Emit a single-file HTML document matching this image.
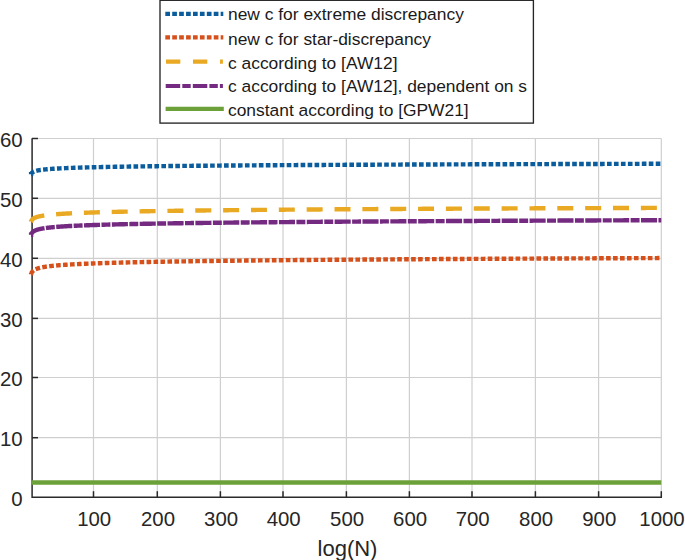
<!DOCTYPE html>
<html><head><meta charset="utf-8"><style>
html,body{margin:0;padding:0;background:#fff;}
body{width:685px;height:560px;overflow:hidden;}
svg{display:block;font-family:"Liberation Sans",sans-serif;}
</style></head><body>
<svg width="685" height="560" viewBox="0 0 685 560">
<rect width="685" height="560" fill="#fff"/>
<g stroke="#cfcfcf" stroke-width="1.2"><line x1="93.50" y1="138.52" x2="93.50" y2="497.20"/><line x1="157.30" y1="138.52" x2="157.30" y2="497.20"/><line x1="220.40" y1="138.52" x2="220.40" y2="497.20"/><line x1="283.00" y1="138.52" x2="283.00" y2="497.20"/><line x1="346.40" y1="138.52" x2="346.40" y2="497.20"/><line x1="409.40" y1="138.52" x2="409.40" y2="497.20"/><line x1="472.00" y1="138.52" x2="472.00" y2="497.20"/><line x1="535.40" y1="138.52" x2="535.40" y2="497.20"/><line x1="598.60" y1="138.52" x2="598.60" y2="497.20"/><line x1="661.30" y1="138.52" x2="661.30" y2="497.20"/><line x1="32" y1="437.70" x2="661.27" y2="437.70"/><line x1="32" y1="377.50" x2="661.27" y2="377.50"/><line x1="32" y1="318.40" x2="661.27" y2="318.40"/><line x1="32" y1="258.30" x2="661.27" y2="258.30"/><line x1="32" y1="198.30" x2="661.27" y2="198.30"/><line x1="32" y1="138.50" x2="661.27" y2="138.50"/></g>
<g stroke="#2a2a2a" stroke-width="1.5"><path d="M32.1 138.22 V497.20 H661.97" fill="none"/><line x1="32" y1="437.70" x2="38" y2="437.70"/><line x1="32" y1="377.50" x2="38" y2="377.50"/><line x1="32" y1="318.40" x2="38" y2="318.40"/><line x1="32" y1="258.30" x2="38" y2="258.30"/><line x1="32" y1="198.30" x2="38" y2="198.30"/><line x1="32" y1="138.50" x2="38" y2="138.50"/><line x1="93.50" y1="497.20" x2="93.50" y2="491.20"/><line x1="157.30" y1="497.20" x2="157.30" y2="491.20"/><line x1="220.40" y1="497.20" x2="220.40" y2="491.20"/><line x1="283.00" y1="497.20" x2="283.00" y2="491.20"/><line x1="346.40" y1="497.20" x2="346.40" y2="491.20"/><line x1="409.40" y1="497.20" x2="409.40" y2="491.20"/><line x1="472.00" y1="497.20" x2="472.00" y2="491.20"/><line x1="535.40" y1="497.20" x2="535.40" y2="491.20"/><line x1="598.60" y1="497.20" x2="598.60" y2="491.20"/><line x1="661.30" y1="497.20" x2="661.30" y2="491.20"/></g>
<g fill="none" stroke-width="4.4"><path d="M31.10 174.14 L31.10 174.14 L31.10 174.14 L31.10 174.13 L31.11 174.13 L31.11 174.12 L31.11 174.12 L31.11 174.11 L31.12 174.10 L31.12 174.09 L31.13 174.08 L31.13 174.06 L31.14 174.05 L31.15 174.03 L31.15 174.02 L31.16 174.00 L31.17 173.98 L31.18 173.96 L31.19 173.94 L31.20 173.92 L31.21 173.90 L31.22 173.88 L31.23 173.85 L31.25 173.83 L31.26 173.81 L31.27 173.78 L31.29 173.75 L31.30 173.73 L31.32 173.70 L31.33 173.67 L31.35 173.65 L31.36 173.62 L31.38 173.59 L31.40 173.56 L31.42 173.53 L31.44 173.50 L31.46 173.47 L31.48 173.44 L31.50 173.41 L31.52 173.38 L31.54 173.35 L31.56 173.32 L31.58 173.29 L31.61 173.26 L31.63 173.23 L31.65 173.20 L31.68 173.16 L31.70 173.13 L31.73 173.10 L31.76 173.07 L31.78 173.04 L31.81 173.01 L31.84 172.98 L31.87 172.95 L31.90 172.91 L31.93 172.88 L31.96 172.85 L31.99 172.82 L32.02 172.79 L32.05 172.76 L32.08 172.73 L32.12 172.70 L32.15 172.67 L32.19 172.64 L32.22 172.61 L32.26 172.58 L32.29 172.55 L32.33 172.52 L32.36 172.49 L32.40 172.46 L32.44 172.43 L32.48 172.40 L32.52 172.37 L32.56 172.35 L32.60 172.32 L32.64 172.29 L32.68 172.26 L32.72 172.23 L32.76 172.20 L32.81 172.18 L32.85 172.15 L32.89 172.12 L32.94 172.09 L32.98 172.07 L33.03 172.04 L33.08 172.01 L33.12 171.99 L33.17 171.96 L33.22 171.93 L33.27 171.91 L33.31 171.88 L33.36 171.86 L33.41 171.83 L33.46 171.80 L33.52 171.78 L33.57 171.75 L33.62 171.73 L33.67 171.70 L33.73 171.68 L33.78 171.65 L33.83 171.63 L33.89 171.61 L33.94 171.58 L34.00 171.56 L34.06 171.53 L34.11 171.51 L34.17 171.49 L34.23 171.46 L34.29 171.44 L34.35 171.42 L34.41 171.39 L34.47 171.37 L34.53 171.35 L34.59 171.33 L34.65 171.30 L34.72 171.28 L34.78 171.26 L34.84 171.24 L34.91 171.21 L34.97 171.19 L35.04 171.17 L35.10 171.15 L35.17 171.13 L35.24 171.11 L35.30 171.09 L35.37 171.06 L35.44 171.04 L35.51 171.02 L35.58 171.00 L35.65 170.98 L35.72 170.96 L35.79 170.94 L35.86 170.92 L35.94 170.90 L36.01 170.88 L36.08 170.86 L36.16 170.84 L36.23 170.82 L36.31 170.80 L36.38 170.78 L36.46 170.76 L36.54 170.75 L36.61 170.73 L36.69 170.71 L36.77 170.69 L36.85 170.67 L36.93 170.65 L37.01 170.63 L37.09 170.61 L37.17 170.60 L37.25 170.58 L37.33 170.56 L37.42 170.54 L37.50 170.52 L37.58 170.51 L37.67 170.49 L37.75 170.47 L37.84 170.45 L37.92 170.44 L38.01 170.42 L38.10 170.40 L38.19 170.38 L38.27 170.37 L38.36 170.35 L38.45 170.33 L38.54 170.32 L38.63 170.30 L38.72 170.28 L38.82 170.27 L38.91 170.25 L39.00 170.23 L39.09 170.22 L39.19 170.20 L39.28 170.19 L39.38 170.17 L39.47 170.15 L39.57 170.14 L39.66 170.12 L39.76 170.11 L39.86 170.09 L39.96 170.07 L40.06 170.06 L40.16 170.04 L40.25 170.03 L40.36 170.01 L40.46 170.00 L40.56 169.98 L40.66 169.97 L40.76 169.95 L40.87 169.94 L40.97 169.92 L41.07 169.91 L41.18 169.89 L41.28 169.88 L41.39 169.86 L41.49 169.85 L41.60 169.83 L41.71 169.82 L41.82 169.81 L41.93 169.79 L42.03 169.78 L42.14 169.76 L42.25 169.75 L42.37 169.74 L42.48 169.72 L42.59 169.71 L42.70 169.69 L42.81 169.68 L42.93 169.67 L43.04 169.65 L43.16 169.64 L43.27 169.63 L43.39 169.61 L43.50 169.60 L43.62 169.59 L43.74 169.57 L43.85 169.56 L43.97 169.55 L44.09 169.53 L44.21 169.52 L44.33 169.51 L44.45 169.49 L44.57 169.48 L44.69 169.47 L44.82 169.45 L44.94 169.44 L45.06 169.43 L45.19 169.42 L45.31 169.40 L45.44 169.39 L45.56 169.38 L45.69 169.37 L45.81 169.35 L45.94 169.34 L46.07 169.33 L46.20 169.32 L46.33 169.30 L46.45 169.29 L46.58 169.28 L46.71 169.27 L46.85 169.26 L46.98 169.24 L47.11 169.23 L47.24 169.22 L47.37 169.21 L47.51 169.20 L47.64 169.18 L47.78 169.17 L47.91 169.16 L48.05 169.15 L48.18 169.14 L48.32 169.13 L48.46 169.12 L48.60 169.10 L48.74 169.09 L48.88 169.08 L49.01 169.07 L49.16 169.06 L49.30 169.05 L49.44 169.04 L49.58 169.02 L49.72 169.01 L49.86 169.00 L50.01 168.99 L50.15 168.98 L50.30 168.97 L50.44 168.96 L50.59 168.95 L50.73 168.94 L50.88 168.93 L51.03 168.91 L51.18 168.90 L51.32 168.89 L51.47 168.88 L51.62 168.87 L51.77 168.86 L51.92 168.85 L52.07 168.84 L52.23 168.83 L52.38 168.82 L52.53 168.81 L52.68 168.80 L52.84 168.79 L52.99 168.78 L53.15 168.77 L53.30 168.76 L53.46 168.75 L53.62 168.74 L53.77 168.73 L53.93 168.72 L54.09 168.71 L54.25 168.70 L54.41 168.69 L54.57 168.68 L54.73 168.67 L54.89 168.66 L55.05 168.65 L55.21 168.64 L55.38 168.63 L55.54 168.62 L55.70 168.61 L56.33 168.57 L57.59 168.50 L58.86 168.43 L60.12 168.37 L61.38 168.30 L62.64 168.24 L63.90 168.19 L65.16 168.13 L66.43 168.08 L67.69 168.02 L68.95 167.97 L70.21 167.93 L71.47 167.88 L72.73 167.83 L74.00 167.79 L75.26 167.75 L76.52 167.71 L77.78 167.66 L79.04 167.63 L80.30 167.59 L81.56 167.55 L82.83 167.51 L84.09 167.48 L85.35 167.44 L86.61 167.41 L87.87 167.37 L89.13 167.34 L90.40 167.31 L91.66 167.28 L92.92 167.25 L94.18 167.22 L95.44 167.19 L96.70 167.16 L97.97 167.13 L99.23 167.10 L100.49 167.08 L101.75 167.05 L103.01 167.02 L104.27 167.00 L105.54 166.97 L106.80 166.95 L108.06 166.92 L109.32 166.90 L110.58 166.88 L111.84 166.85 L113.10 166.83 L114.37 166.81 L115.63 166.78 L116.89 166.76 L118.15 166.74 L119.41 166.72 L120.67 166.70 L121.94 166.68 L123.20 166.66 L124.46 166.64 L125.72 166.62 L126.98 166.60 L128.24 166.58 L129.51 166.56 L130.77 166.54 L132.03 166.52 L133.29 166.50 L134.55 166.48 L135.81 166.46 L137.08 166.45 L138.34 166.43 L139.60 166.41 L140.86 166.39 L142.12 166.38 L143.38 166.36 L144.64 166.34 L145.91 166.33 L147.17 166.31 L148.43 166.29 L149.69 166.28 L150.95 166.26 L152.21 166.25 L153.48 166.23 L154.74 166.22 L156.00 166.20 L157.26 166.19 L158.52 166.17 L159.78 166.16 L161.05 166.14 L162.31 166.13 L163.57 166.11 L164.83 166.10 L166.09 166.09 L167.35 166.07 L168.62 166.06 L169.88 166.04 L171.14 166.03 L172.40 166.02 L173.66 166.00 L174.92 165.99 L176.18 165.98 L177.45 165.96 L178.71 165.95 L179.97 165.94 L181.23 165.93 L182.49 165.91 L183.75 165.90 L185.02 165.89 L186.28 165.88 L187.54 165.87 L188.80 165.85 L190.06 165.84 L191.32 165.83 L192.59 165.82 L193.85 165.81 L195.11 165.79 L196.37 165.78 L197.63 165.77 L198.89 165.76 L200.16 165.75 L201.42 165.74 L202.68 165.73 L203.94 165.72 L205.20 165.71 L206.46 165.69 L207.72 165.68 L208.99 165.67 L210.25 165.66 L211.51 165.65 L212.77 165.64 L214.03 165.63 L215.29 165.62 L216.56 165.61 L217.82 165.60 L219.08 165.59 L220.34 165.58 L221.60 165.57 L222.86 165.56 L224.13 165.55 L225.39 165.54 L226.65 165.53 L227.91 165.52 L229.17 165.51 L230.43 165.50 L231.70 165.49 L232.96 165.48 L234.22 165.48 L235.48 165.47 L236.74 165.46 L238.00 165.45 L239.26 165.44 L240.53 165.43 L241.79 165.42 L243.05 165.41 L244.31 165.40 L245.57 165.39 L246.83 165.39 L248.10 165.38 L249.36 165.37 L250.62 165.36 L251.88 165.35 L253.14 165.34 L254.40 165.33 L255.67 165.33 L256.93 165.32 L258.19 165.31 L259.45 165.30 L260.71 165.29 L261.97 165.28 L263.24 165.28 L264.50 165.27 L265.76 165.26 L267.02 165.25 L268.28 165.24 L269.54 165.24 L270.80 165.23 L272.07 165.22 L273.33 165.21 L274.59 165.20 L275.85 165.20 L277.11 165.19 L278.37 165.18 L279.64 165.17 L280.90 165.17 L282.16 165.16 L283.42 165.15 L284.68 165.14 L285.94 165.14 L287.21 165.13 L288.47 165.12 L289.73 165.11 L290.99 165.11 L292.25 165.10 L293.51 165.09 L294.78 165.08 L296.04 165.08 L297.30 165.07 L298.56 165.06 L299.82 165.06 L301.08 165.05 L302.34 165.04 L303.61 165.04 L304.87 165.03 L306.13 165.02 L307.39 165.01 L308.65 165.01 L309.91 165.00 L311.18 164.99 L312.44 164.99 L313.70 164.98 L314.96 164.97 L316.22 164.97 L317.48 164.96 L318.75 164.95 L320.01 164.95 L321.27 164.94 L322.53 164.94 L323.79 164.93 L325.05 164.92 L326.32 164.92 L327.58 164.91 L328.84 164.90 L330.10 164.90 L331.36 164.89 L332.62 164.88 L333.88 164.88 L335.15 164.87 L336.41 164.87 L337.67 164.86 L338.93 164.85 L340.19 164.85 L341.45 164.84 L342.72 164.83 L343.98 164.83 L345.24 164.82 L346.50 164.82 L347.76 164.81 L349.02 164.80 L350.29 164.80 L351.55 164.79 L352.81 164.79 L354.07 164.78 L355.33 164.78 L356.59 164.77 L357.86 164.76 L359.12 164.76 L360.38 164.75 L361.64 164.75 L362.90 164.74 L364.16 164.74 L365.42 164.73 L366.69 164.72 L367.95 164.72 L369.21 164.71 L370.47 164.71 L371.73 164.70 L372.99 164.70 L374.26 164.69 L375.52 164.69 L376.78 164.68 L378.04 164.67 L379.30 164.67 L380.56 164.66 L381.83 164.66 L383.09 164.65 L384.35 164.65 L385.61 164.64 L386.87 164.64 L388.13 164.63 L389.40 164.63 L390.66 164.62 L391.92 164.62 L393.18 164.61 L394.44 164.61 L395.70 164.60 L396.96 164.59 L398.23 164.59 L399.49 164.58 L400.75 164.58 L402.01 164.57 L403.27 164.57 L404.53 164.56 L405.80 164.56 L407.06 164.55 L408.32 164.55 L409.58 164.54 L410.84 164.54 L412.10 164.53 L413.37 164.53 L414.63 164.52 L415.89 164.52 L417.15 164.51 L418.41 164.51 L419.67 164.50 L420.94 164.50 L422.20 164.49 L423.46 164.49 L424.72 164.49 L425.98 164.48 L427.24 164.48 L428.50 164.47 L429.77 164.47 L431.03 164.46 L432.29 164.46 L433.55 164.45 L434.81 164.45 L436.07 164.44 L437.34 164.44 L438.60 164.43 L439.86 164.43 L441.12 164.42 L442.38 164.42 L443.64 164.41 L444.91 164.41 L446.17 164.41 L447.43 164.40 L448.69 164.40 L449.95 164.39 L451.21 164.39 L452.48 164.38 L453.74 164.38 L455.00 164.37 L456.26 164.37 L457.52 164.37 L458.78 164.36 L460.04 164.36 L461.31 164.35 L462.57 164.35 L463.83 164.34 L465.09 164.34 L466.35 164.33 L467.61 164.33 L468.88 164.33 L470.14 164.32 L471.40 164.32 L472.66 164.31 L473.92 164.31 L475.18 164.30 L476.45 164.30 L477.71 164.30 L478.97 164.29 L480.23 164.29 L481.49 164.28 L482.75 164.28 L484.02 164.28 L485.28 164.27 L486.54 164.27 L487.80 164.26 L489.06 164.26 L490.32 164.25 L491.58 164.25 L492.85 164.25 L494.11 164.24 L495.37 164.24 L496.63 164.23 L497.89 164.23 L499.15 164.23 L500.42 164.22 L501.68 164.22 L502.94 164.21 L504.20 164.21 L505.46 164.21 L506.72 164.20 L507.99 164.20 L509.25 164.19 L510.51 164.19 L511.77 164.19 L513.03 164.18 L514.29 164.18 L515.56 164.17 L516.82 164.17 L518.08 164.17 L519.34 164.16 L520.60 164.16 L521.86 164.15 L523.12 164.15 L524.39 164.15 L525.65 164.14 L526.91 164.14 L528.17 164.14 L529.43 164.13 L530.69 164.13 L531.96 164.12 L533.22 164.12 L534.48 164.12 L535.74 164.11 L537.00 164.11 L538.26 164.11 L539.53 164.10 L540.79 164.10 L542.05 164.09 L543.31 164.09 L544.57 164.09 L545.83 164.08 L547.10 164.08 L548.36 164.08 L549.62 164.07 L550.88 164.07 L552.14 164.07 L553.40 164.06 L554.66 164.06 L555.93 164.05 L557.19 164.05 L558.45 164.05 L559.71 164.04 L560.97 164.04 L562.23 164.04 L563.50 164.03 L564.76 164.03 L566.02 164.03 L567.28 164.02 L568.54 164.02 L569.80 164.02 L571.07 164.01 L572.33 164.01 L573.59 164.00 L574.85 164.00 L576.11 164.00 L577.37 163.99 L578.64 163.99 L579.90 163.99 L581.16 163.98 L582.42 163.98 L583.68 163.98 L584.94 163.97 L586.20 163.97 L587.47 163.97 L588.73 163.96 L589.99 163.96 L591.25 163.96 L592.51 163.95 L593.77 163.95 L595.04 163.95 L596.30 163.94 L597.56 163.94 L598.82 163.94 L600.08 163.93 L601.34 163.93 L602.61 163.93 L603.87 163.92 L605.13 163.92 L606.39 163.92 L607.65 163.91 L608.91 163.91 L610.18 163.91 L611.44 163.90 L612.70 163.90 L613.96 163.90 L615.22 163.89 L616.48 163.89 L617.74 163.89 L619.01 163.88 L620.27 163.88 L621.53 163.88 L622.79 163.87 L624.05 163.87 L625.31 163.87 L626.58 163.87 L627.84 163.86 L629.10 163.86 L630.36 163.86 L631.62 163.85 L632.88 163.85 L634.15 163.85 L635.41 163.84 L636.67 163.84 L637.93 163.84 L639.19 163.83 L640.45 163.83 L641.72 163.83 L642.98 163.82 L644.24 163.82 L645.50 163.82 L646.76 163.82 L648.02 163.81 L649.28 163.81 L650.55 163.81 L651.81 163.80 L653.07 163.80 L654.33 163.80 L655.59 163.79 L656.85 163.79 L658.12 163.79 L659.38 163.78 L660.64 163.78 L661.27 163.78" stroke="#0a5c9c" stroke-dasharray="4.65 2.313" stroke-dashoffset="0.590"/>
<path d="M31.10 274.13 L31.10 274.13 L31.10 274.13 L31.10 274.12 L31.11 274.11 L31.11 274.11 L31.11 274.09 L31.11 274.08 L31.12 274.07 L31.12 274.05 L31.13 274.03 L31.13 274.01 L31.14 273.99 L31.15 273.97 L31.15 273.94 L31.16 273.91 L31.17 273.89 L31.18 273.86 L31.19 273.83 L31.20 273.79 L31.21 273.76 L31.22 273.72 L31.23 273.69 L31.25 273.65 L31.26 273.61 L31.27 273.57 L31.29 273.53 L31.30 273.49 L31.32 273.45 L31.33 273.41 L31.35 273.36 L31.36 273.32 L31.38 273.28 L31.40 273.23 L31.42 273.19 L31.44 273.14 L31.46 273.09 L31.48 273.05 L31.50 273.00 L31.52 272.95 L31.54 272.91 L31.56 272.86 L31.58 272.81 L31.61 272.76 L31.63 272.71 L31.65 272.67 L31.68 272.62 L31.70 272.57 L31.73 272.52 L31.76 272.47 L31.78 272.42 L31.81 272.38 L31.84 272.33 L31.87 272.28 L31.90 272.23 L31.93 272.18 L31.96 272.13 L31.99 272.09 L32.02 272.04 L32.05 271.99 L32.08 271.94 L32.12 271.90 L32.15 271.85 L32.19 271.80 L32.22 271.76 L32.26 271.71 L32.29 271.66 L32.33 271.62 L32.36 271.57 L32.40 271.53 L32.44 271.48 L32.48 271.44 L32.52 271.39 L32.56 271.35 L32.60 271.30 L32.64 271.26 L32.68 271.21 L32.72 271.17 L32.76 271.13 L32.81 271.08 L32.85 271.04 L32.89 271.00 L32.94 270.96 L32.98 270.91 L33.03 270.87 L33.08 270.83 L33.12 270.79 L33.17 270.75 L33.22 270.71 L33.27 270.67 L33.31 270.63 L33.36 270.59 L33.41 270.55 L33.46 270.51 L33.52 270.47 L33.57 270.43 L33.62 270.39 L33.67 270.35 L33.73 270.31 L33.78 270.27 L33.83 270.24 L33.89 270.20 L33.94 270.16 L34.00 270.12 L34.06 270.09 L34.11 270.05 L34.17 270.01 L34.23 269.98 L34.29 269.94 L34.35 269.91 L34.41 269.87 L34.47 269.84 L34.53 269.80 L34.59 269.76 L34.65 269.73 L34.72 269.70 L34.78 269.66 L34.84 269.63 L34.91 269.59 L34.97 269.56 L35.04 269.53 L35.10 269.49 L35.17 269.46 L35.24 269.43 L35.30 269.39 L35.37 269.36 L35.44 269.33 L35.51 269.30 L35.58 269.26 L35.65 269.23 L35.72 269.20 L35.79 269.17 L35.86 269.14 L35.94 269.11 L36.01 269.08 L36.08 269.05 L36.16 269.02 L36.23 268.99 L36.31 268.96 L36.38 268.93 L36.46 268.90 L36.54 268.87 L36.61 268.84 L36.69 268.81 L36.77 268.78 L36.85 268.75 L36.93 268.72 L37.01 268.69 L37.09 268.66 L37.17 268.63 L37.25 268.61 L37.33 268.58 L37.42 268.55 L37.50 268.52 L37.58 268.50 L37.67 268.47 L37.75 268.44 L37.84 268.41 L37.92 268.39 L38.01 268.36 L38.10 268.33 L38.19 268.31 L38.27 268.28 L38.36 268.25 L38.45 268.23 L38.54 268.20 L38.63 268.17 L38.72 268.15 L38.82 268.12 L38.91 268.10 L39.00 268.07 L39.09 268.05 L39.19 268.02 L39.28 268.00 L39.38 267.97 L39.47 267.95 L39.57 267.92 L39.66 267.90 L39.76 267.87 L39.86 267.85 L39.96 267.83 L40.06 267.80 L40.16 267.78 L40.25 267.75 L40.36 267.73 L40.46 267.71 L40.56 267.68 L40.66 267.66 L40.76 267.64 L40.87 267.61 L40.97 267.59 L41.07 267.57 L41.18 267.54 L41.28 267.52 L41.39 267.50 L41.49 267.48 L41.60 267.45 L41.71 267.43 L41.82 267.41 L41.93 267.39 L42.03 267.36 L42.14 267.34 L42.25 267.32 L42.37 267.30 L42.48 267.28 L42.59 267.26 L42.70 267.23 L42.81 267.21 L42.93 267.19 L43.04 267.17 L43.16 267.15 L43.27 267.13 L43.39 267.11 L43.50 267.09 L43.62 267.07 L43.74 267.05 L43.85 267.02 L43.97 267.00 L44.09 266.98 L44.21 266.96 L44.33 266.94 L44.45 266.92 L44.57 266.90 L44.69 266.88 L44.82 266.86 L44.94 266.84 L45.06 266.82 L45.19 266.80 L45.31 266.78 L45.44 266.76 L45.56 266.75 L45.69 266.73 L45.81 266.71 L45.94 266.69 L46.07 266.67 L46.20 266.65 L46.33 266.63 L46.45 266.61 L46.58 266.59 L46.71 266.57 L46.85 266.56 L46.98 266.54 L47.11 266.52 L47.24 266.50 L47.37 266.48 L47.51 266.46 L47.64 266.44 L47.78 266.43 L47.91 266.41 L48.05 266.39 L48.18 266.37 L48.32 266.35 L48.46 266.34 L48.60 266.32 L48.74 266.30 L48.88 266.28 L49.01 266.27 L49.16 266.25 L49.30 266.23 L49.44 266.21 L49.58 266.20 L49.72 266.18 L49.86 266.16 L50.01 266.14 L50.15 266.13 L50.30 266.11 L50.44 266.09 L50.59 266.08 L50.73 266.06 L50.88 266.04 L51.03 266.03 L51.18 266.01 L51.32 265.99 L51.47 265.98 L51.62 265.96 L51.77 265.94 L51.92 265.93 L52.07 265.91 L52.23 265.89 L52.38 265.88 L52.53 265.86 L52.68 265.85 L52.84 265.83 L52.99 265.81 L53.15 265.80 L53.30 265.78 L53.46 265.77 L53.62 265.75 L53.77 265.73 L53.93 265.72 L54.09 265.70 L54.25 265.69 L54.41 265.67 L54.57 265.66 L54.73 265.64 L54.89 265.63 L55.05 265.61 L55.21 265.60 L55.38 265.58 L55.54 265.56 L55.70 265.55 L56.33 265.49 L57.59 265.38 L58.86 265.28 L60.12 265.17 L61.38 265.08 L62.64 264.98 L63.90 264.90 L65.16 264.81 L66.43 264.73 L67.69 264.65 L68.95 264.57 L70.21 264.49 L71.47 264.42 L72.73 264.35 L74.00 264.28 L75.26 264.22 L76.52 264.15 L77.78 264.09 L79.04 264.03 L80.30 263.97 L81.56 263.91 L82.83 263.85 L84.09 263.80 L85.35 263.74 L86.61 263.69 L87.87 263.64 L89.13 263.59 L90.40 263.54 L91.66 263.49 L92.92 263.44 L94.18 263.40 L95.44 263.35 L96.70 263.30 L97.97 263.26 L99.23 263.22 L100.49 263.18 L101.75 263.13 L103.01 263.09 L104.27 263.05 L105.54 263.01 L106.80 262.97 L108.06 262.94 L109.32 262.90 L110.58 262.86 L111.84 262.83 L113.10 262.79 L114.37 262.75 L115.63 262.72 L116.89 262.69 L118.15 262.65 L119.41 262.62 L120.67 262.59 L121.94 262.55 L123.20 262.52 L124.46 262.49 L125.72 262.46 L126.98 262.43 L128.24 262.40 L129.51 262.37 L130.77 262.34 L132.03 262.31 L133.29 262.28 L134.55 262.25 L135.81 262.23 L137.08 262.20 L138.34 262.17 L139.60 262.14 L140.86 262.12 L142.12 262.09 L143.38 262.06 L144.64 262.04 L145.91 262.01 L147.17 261.99 L148.43 261.96 L149.69 261.94 L150.95 261.91 L152.21 261.89 L153.48 261.86 L154.74 261.84 L156.00 261.82 L157.26 261.79 L158.52 261.77 L159.78 261.75 L161.05 261.73 L162.31 261.70 L163.57 261.68 L164.83 261.66 L166.09 261.64 L167.35 261.62 L168.62 261.59 L169.88 261.57 L171.14 261.55 L172.40 261.53 L173.66 261.51 L174.92 261.49 L176.18 261.47 L177.45 261.45 L178.71 261.43 L179.97 261.41 L181.23 261.39 L182.49 261.37 L183.75 261.35 L185.02 261.33 L186.28 261.31 L187.54 261.30 L188.80 261.28 L190.06 261.26 L191.32 261.24 L192.59 261.22 L193.85 261.20 L195.11 261.19 L196.37 261.17 L197.63 261.15 L198.89 261.13 L200.16 261.12 L201.42 261.10 L202.68 261.08 L203.94 261.07 L205.20 261.05 L206.46 261.03 L207.72 261.01 L208.99 261.00 L210.25 260.98 L211.51 260.97 L212.77 260.95 L214.03 260.93 L215.29 260.92 L216.56 260.90 L217.82 260.89 L219.08 260.87 L220.34 260.85 L221.60 260.84 L222.86 260.82 L224.13 260.81 L225.39 260.79 L226.65 260.78 L227.91 260.76 L229.17 260.75 L230.43 260.73 L231.70 260.72 L232.96 260.71 L234.22 260.69 L235.48 260.68 L236.74 260.66 L238.00 260.65 L239.26 260.63 L240.53 260.62 L241.79 260.61 L243.05 260.59 L244.31 260.58 L245.57 260.56 L246.83 260.55 L248.10 260.54 L249.36 260.52 L250.62 260.51 L251.88 260.50 L253.14 260.48 L254.40 260.47 L255.67 260.46 L256.93 260.45 L258.19 260.43 L259.45 260.42 L260.71 260.41 L261.97 260.39 L263.24 260.38 L264.50 260.37 L265.76 260.36 L267.02 260.34 L268.28 260.33 L269.54 260.32 L270.80 260.31 L272.07 260.29 L273.33 260.28 L274.59 260.27 L275.85 260.26 L277.11 260.25 L278.37 260.23 L279.64 260.22 L280.90 260.21 L282.16 260.20 L283.42 260.19 L284.68 260.18 L285.94 260.16 L287.21 260.15 L288.47 260.14 L289.73 260.13 L290.99 260.12 L292.25 260.11 L293.51 260.10 L294.78 260.09 L296.04 260.07 L297.30 260.06 L298.56 260.05 L299.82 260.04 L301.08 260.03 L302.34 260.02 L303.61 260.01 L304.87 260.00 L306.13 259.99 L307.39 259.98 L308.65 259.97 L309.91 259.96 L311.18 259.95 L312.44 259.94 L313.70 259.92 L314.96 259.91 L316.22 259.90 L317.48 259.89 L318.75 259.88 L320.01 259.87 L321.27 259.86 L322.53 259.85 L323.79 259.84 L325.05 259.83 L326.32 259.82 L327.58 259.81 L328.84 259.80 L330.10 259.79 L331.36 259.78 L332.62 259.77 L333.88 259.76 L335.15 259.75 L336.41 259.75 L337.67 259.74 L338.93 259.73 L340.19 259.72 L341.45 259.71 L342.72 259.70 L343.98 259.69 L345.24 259.68 L346.50 259.67 L347.76 259.66 L349.02 259.65 L350.29 259.64 L351.55 259.63 L352.81 259.62 L354.07 259.61 L355.33 259.61 L356.59 259.60 L357.86 259.59 L359.12 259.58 L360.38 259.57 L361.64 259.56 L362.90 259.55 L364.16 259.54 L365.42 259.53 L366.69 259.53 L367.95 259.52 L369.21 259.51 L370.47 259.50 L371.73 259.49 L372.99 259.48 L374.26 259.47 L375.52 259.47 L376.78 259.46 L378.04 259.45 L379.30 259.44 L380.56 259.43 L381.83 259.42 L383.09 259.41 L384.35 259.41 L385.61 259.40 L386.87 259.39 L388.13 259.38 L389.40 259.37 L390.66 259.37 L391.92 259.36 L393.18 259.35 L394.44 259.34 L395.70 259.33 L396.96 259.33 L398.23 259.32 L399.49 259.31 L400.75 259.30 L402.01 259.29 L403.27 259.29 L404.53 259.28 L405.80 259.27 L407.06 259.26 L408.32 259.25 L409.58 259.25 L410.84 259.24 L412.10 259.23 L413.37 259.22 L414.63 259.22 L415.89 259.21 L417.15 259.20 L418.41 259.19 L419.67 259.19 L420.94 259.18 L422.20 259.17 L423.46 259.16 L424.72 259.16 L425.98 259.15 L427.24 259.14 L428.50 259.13 L429.77 259.13 L431.03 259.12 L432.29 259.11 L433.55 259.10 L434.81 259.10 L436.07 259.09 L437.34 259.08 L438.60 259.07 L439.86 259.07 L441.12 259.06 L442.38 259.05 L443.64 259.05 L444.91 259.04 L446.17 259.03 L447.43 259.03 L448.69 259.02 L449.95 259.01 L451.21 259.00 L452.48 259.00 L453.74 258.99 L455.00 258.98 L456.26 258.98 L457.52 258.97 L458.78 258.96 L460.04 258.96 L461.31 258.95 L462.57 258.94 L463.83 258.94 L465.09 258.93 L466.35 258.92 L467.61 258.92 L468.88 258.91 L470.14 258.90 L471.40 258.90 L472.66 258.89 L473.92 258.88 L475.18 258.88 L476.45 258.87 L477.71 258.86 L478.97 258.86 L480.23 258.85 L481.49 258.84 L482.75 258.84 L484.02 258.83 L485.28 258.82 L486.54 258.82 L487.80 258.81 L489.06 258.80 L490.32 258.80 L491.58 258.79 L492.85 258.78 L494.11 258.78 L495.37 258.77 L496.63 258.77 L497.89 258.76 L499.15 258.75 L500.42 258.75 L501.68 258.74 L502.94 258.73 L504.20 258.73 L505.46 258.72 L506.72 258.72 L507.99 258.71 L509.25 258.70 L510.51 258.70 L511.77 258.69 L513.03 258.69 L514.29 258.68 L515.56 258.67 L516.82 258.67 L518.08 258.66 L519.34 258.65 L520.60 258.65 L521.86 258.64 L523.12 258.64 L524.39 258.63 L525.65 258.63 L526.91 258.62 L528.17 258.61 L529.43 258.61 L530.69 258.60 L531.96 258.60 L533.22 258.59 L534.48 258.58 L535.74 258.58 L537.00 258.57 L538.26 258.57 L539.53 258.56 L540.79 258.56 L542.05 258.55 L543.31 258.54 L544.57 258.54 L545.83 258.53 L547.10 258.53 L548.36 258.52 L549.62 258.52 L550.88 258.51 L552.14 258.50 L553.40 258.50 L554.66 258.49 L555.93 258.49 L557.19 258.48 L558.45 258.48 L559.71 258.47 L560.97 258.46 L562.23 258.46 L563.50 258.45 L564.76 258.45 L566.02 258.44 L567.28 258.44 L568.54 258.43 L569.80 258.43 L571.07 258.42 L572.33 258.42 L573.59 258.41 L574.85 258.40 L576.11 258.40 L577.37 258.39 L578.64 258.39 L579.90 258.38 L581.16 258.38 L582.42 258.37 L583.68 258.37 L584.94 258.36 L586.20 258.36 L587.47 258.35 L588.73 258.35 L589.99 258.34 L591.25 258.34 L592.51 258.33 L593.77 258.33 L595.04 258.32 L596.30 258.31 L597.56 258.31 L598.82 258.30 L600.08 258.30 L601.34 258.29 L602.61 258.29 L603.87 258.28 L605.13 258.28 L606.39 258.27 L607.65 258.27 L608.91 258.26 L610.18 258.26 L611.44 258.25 L612.70 258.25 L613.96 258.24 L615.22 258.24 L616.48 258.23 L617.74 258.23 L619.01 258.22 L620.27 258.22 L621.53 258.21 L622.79 258.21 L624.05 258.20 L625.31 258.20 L626.58 258.19 L627.84 258.19 L629.10 258.18 L630.36 258.18 L631.62 258.17 L632.88 258.17 L634.15 258.16 L635.41 258.16 L636.67 258.15 L637.93 258.15 L639.19 258.14 L640.45 258.14 L641.72 258.14 L642.98 258.13 L644.24 258.13 L645.50 258.12 L646.76 258.12 L648.02 258.11 L649.28 258.11 L650.55 258.10 L651.81 258.10 L653.07 258.09 L654.33 258.09 L655.59 258.08 L656.85 258.08 L658.12 258.07 L659.38 258.07 L660.64 258.06 L661.27 258.06" stroke="#d6501b" stroke-dasharray="4.65 2.313" stroke-dashoffset="0.013"/>
<path d="M31.10 221.62 L31.10 221.62 L31.10 221.61 L31.10 221.61 L31.11 221.60 L31.11 221.60 L31.11 221.59 L31.11 221.57 L31.12 221.56 L31.12 221.55 L31.13 221.53 L31.13 221.51 L31.14 221.50 L31.15 221.48 L31.15 221.45 L31.16 221.43 L31.17 221.41 L31.18 221.38 L31.19 221.36 L31.20 221.33 L31.21 221.30 L31.22 221.27 L31.23 221.24 L31.25 221.21 L31.26 221.17 L31.27 221.14 L31.29 221.11 L31.30 221.07 L31.32 221.03 L31.33 221.00 L31.35 220.96 L31.36 220.92 L31.38 220.89 L31.40 220.85 L31.42 220.81 L31.44 220.77 L31.46 220.73 L31.48 220.69 L31.50 220.65 L31.52 220.61 L31.54 220.57 L31.56 220.53 L31.58 220.49 L31.61 220.45 L31.63 220.40 L31.65 220.36 L31.68 220.32 L31.70 220.28 L31.73 220.24 L31.76 220.20 L31.78 220.16 L31.81 220.12 L31.84 220.07 L31.87 220.03 L31.90 219.99 L31.93 219.95 L31.96 219.91 L31.99 219.87 L32.02 219.83 L32.05 219.79 L32.08 219.75 L32.12 219.71 L32.15 219.67 L32.19 219.63 L32.22 219.59 L32.26 219.55 L32.29 219.51 L32.33 219.47 L32.36 219.43 L32.40 219.39 L32.44 219.35 L32.48 219.31 L32.52 219.27 L32.56 219.24 L32.60 219.20 L32.64 219.16 L32.68 219.12 L32.72 219.09 L32.76 219.05 L32.81 219.01 L32.85 218.98 L32.89 218.94 L32.94 218.90 L32.98 218.87 L33.03 218.83 L33.08 218.80 L33.12 218.76 L33.17 218.72 L33.22 218.69 L33.27 218.65 L33.31 218.62 L33.36 218.59 L33.41 218.55 L33.46 218.52 L33.52 218.48 L33.57 218.45 L33.62 218.42 L33.67 218.38 L33.73 218.35 L33.78 218.32 L33.83 218.29 L33.89 218.25 L33.94 218.22 L34.00 218.19 L34.06 218.16 L34.11 218.13 L34.17 218.10 L34.23 218.07 L34.29 218.03 L34.35 218.00 L34.41 217.97 L34.47 217.94 L34.53 217.91 L34.59 217.88 L34.65 217.85 L34.72 217.82 L34.78 217.79 L34.84 217.77 L34.91 217.74 L34.97 217.71 L35.04 217.68 L35.10 217.65 L35.17 217.62 L35.24 217.59 L35.30 217.57 L35.37 217.54 L35.44 217.51 L35.51 217.48 L35.58 217.46 L35.65 217.43 L35.72 217.40 L35.79 217.37 L35.86 217.35 L35.94 217.32 L36.01 217.30 L36.08 217.27 L36.16 217.24 L36.23 217.22 L36.31 217.19 L36.38 217.17 L36.46 217.14 L36.54 217.11 L36.61 217.09 L36.69 217.06 L36.77 217.04 L36.85 217.01 L36.93 216.99 L37.01 216.97 L37.09 216.94 L37.17 216.92 L37.25 216.89 L37.33 216.87 L37.42 216.84 L37.50 216.82 L37.58 216.80 L37.67 216.77 L37.75 216.75 L37.84 216.73 L37.92 216.70 L38.01 216.68 L38.10 216.66 L38.19 216.64 L38.27 216.61 L38.36 216.59 L38.45 216.57 L38.54 216.55 L38.63 216.52 L38.72 216.50 L38.82 216.48 L38.91 216.46 L39.00 216.44 L39.09 216.41 L39.19 216.39 L39.28 216.37 L39.38 216.35 L39.47 216.33 L39.57 216.31 L39.66 216.29 L39.76 216.27 L39.86 216.25 L39.96 216.22 L40.06 216.20 L40.16 216.18 L40.25 216.16 L40.36 216.14 L40.46 216.12 L40.56 216.10 L40.66 216.08 L40.76 216.06 L40.87 216.04 L40.97 216.02 L41.07 216.00 L41.18 215.98 L41.28 215.96 L41.39 215.95 L41.49 215.93 L41.60 215.91 L41.71 215.89 L41.82 215.87 L41.93 215.85 L42.03 215.83 L42.14 215.81 L42.25 215.79 L42.37 215.77 L42.48 215.76 L42.59 215.74 L42.70 215.72 L42.81 215.70 L42.93 215.68 L43.04 215.66 L43.16 215.65 L43.27 215.63 L43.39 215.61 L43.50 215.59 L43.62 215.58 L43.74 215.56 L43.85 215.54 L43.97 215.52 L44.09 215.51 L44.21 215.49 L44.33 215.47 L44.45 215.45 L44.57 215.44 L44.69 215.42 L44.82 215.40 L44.94 215.39 L45.06 215.37 L45.19 215.35 L45.31 215.33 L45.44 215.32 L45.56 215.30 L45.69 215.28 L45.81 215.27 L45.94 215.25 L46.07 215.24 L46.20 215.22 L46.33 215.20 L46.45 215.19 L46.58 215.17 L46.71 215.15 L46.85 215.14 L46.98 215.12 L47.11 215.11 L47.24 215.09 L47.37 215.08 L47.51 215.06 L47.64 215.04 L47.78 215.03 L47.91 215.01 L48.05 215.00 L48.18 214.98 L48.32 214.97 L48.46 214.95 L48.60 214.94 L48.74 214.92 L48.88 214.91 L49.01 214.89 L49.16 214.88 L49.30 214.86 L49.44 214.85 L49.58 214.83 L49.72 214.82 L49.86 214.80 L50.01 214.79 L50.15 214.77 L50.30 214.76 L50.44 214.74 L50.59 214.73 L50.73 214.72 L50.88 214.70 L51.03 214.69 L51.18 214.67 L51.32 214.66 L51.47 214.64 L51.62 214.63 L51.77 214.62 L51.92 214.60 L52.07 214.59 L52.23 214.57 L52.38 214.56 L52.53 214.55 L52.68 214.53 L52.84 214.52 L52.99 214.50 L53.15 214.49 L53.30 214.48 L53.46 214.46 L53.62 214.45 L53.77 214.44 L53.93 214.42 L54.09 214.41 L54.25 214.40 L54.41 214.38 L54.57 214.37 L54.73 214.36 L54.89 214.34 L55.05 214.33 L55.21 214.32 L55.38 214.30 L55.54 214.29 L55.70 214.28 L56.33 214.23 L57.59 214.14 L58.86 214.04 L60.12 213.96 L61.38 213.88 L62.64 213.80 L63.90 213.72 L65.16 213.65 L66.43 213.57 L67.69 213.51 L68.95 213.44 L70.21 213.38 L71.47 213.31 L72.73 213.25 L74.00 213.19 L75.26 213.14 L76.52 213.08 L77.78 213.03 L79.04 212.98 L80.30 212.93 L81.56 212.88 L82.83 212.83 L84.09 212.78 L85.35 212.73 L86.61 212.69 L87.87 212.64 L89.13 212.60 L90.40 212.56 L91.66 212.52 L92.92 212.48 L94.18 212.44 L95.44 212.40 L96.70 212.36 L97.97 212.32 L99.23 212.28 L100.49 212.25 L101.75 212.21 L103.01 212.18 L104.27 212.14 L105.54 212.11 L106.80 212.08 L108.06 212.04 L109.32 212.01 L110.58 211.98 L111.84 211.95 L113.10 211.92 L114.37 211.89 L115.63 211.86 L116.89 211.83 L118.15 211.80 L119.41 211.77 L120.67 211.74 L121.94 211.72 L123.20 211.69 L124.46 211.66 L125.72 211.64 L126.98 211.61 L128.24 211.58 L129.51 211.56 L130.77 211.53 L132.03 211.51 L133.29 211.48 L134.55 211.46 L135.81 211.44 L137.08 211.41 L138.34 211.39 L139.60 211.37 L140.86 211.34 L142.12 211.32 L143.38 211.30 L144.64 211.28 L145.91 211.25 L147.17 211.23 L148.43 211.21 L149.69 211.19 L150.95 211.17 L152.21 211.15 L153.48 211.13 L154.74 211.11 L156.00 211.09 L157.26 211.07 L158.52 211.05 L159.78 211.03 L161.05 211.01 L162.31 210.99 L163.57 210.97 L164.83 210.95 L166.09 210.93 L167.35 210.92 L168.62 210.90 L169.88 210.88 L171.14 210.86 L172.40 210.84 L173.66 210.83 L174.92 210.81 L176.18 210.79 L177.45 210.77 L178.71 210.76 L179.97 210.74 L181.23 210.72 L182.49 210.71 L183.75 210.69 L185.02 210.67 L186.28 210.66 L187.54 210.64 L188.80 210.63 L190.06 210.61 L191.32 210.59 L192.59 210.58 L193.85 210.56 L195.11 210.55 L196.37 210.53 L197.63 210.52 L198.89 210.50 L200.16 210.49 L201.42 210.47 L202.68 210.46 L203.94 210.44 L205.20 210.43 L206.46 210.42 L207.72 210.40 L208.99 210.39 L210.25 210.37 L211.51 210.36 L212.77 210.35 L214.03 210.33 L215.29 210.32 L216.56 210.30 L217.82 210.29 L219.08 210.28 L220.34 210.26 L221.60 210.25 L222.86 210.24 L224.13 210.23 L225.39 210.21 L226.65 210.20 L227.91 210.19 L229.17 210.17 L230.43 210.16 L231.70 210.15 L232.96 210.14 L234.22 210.12 L235.48 210.11 L236.74 210.10 L238.00 210.09 L239.26 210.08 L240.53 210.06 L241.79 210.05 L243.05 210.04 L244.31 210.03 L245.57 210.02 L246.83 210.00 L248.10 209.99 L249.36 209.98 L250.62 209.97 L251.88 209.96 L253.14 209.95 L254.40 209.94 L255.67 209.93 L256.93 209.91 L258.19 209.90 L259.45 209.89 L260.71 209.88 L261.97 209.87 L263.24 209.86 L264.50 209.85 L265.76 209.84 L267.02 209.83 L268.28 209.82 L269.54 209.81 L270.80 209.80 L272.07 209.79 L273.33 209.77 L274.59 209.76 L275.85 209.75 L277.11 209.74 L278.37 209.73 L279.64 209.72 L280.90 209.71 L282.16 209.70 L283.42 209.69 L284.68 209.68 L285.94 209.67 L287.21 209.66 L288.47 209.65 L289.73 209.64 L290.99 209.64 L292.25 209.63 L293.51 209.62 L294.78 209.61 L296.04 209.60 L297.30 209.59 L298.56 209.58 L299.82 209.57 L301.08 209.56 L302.34 209.55 L303.61 209.54 L304.87 209.53 L306.13 209.52 L307.39 209.51 L308.65 209.50 L309.91 209.50 L311.18 209.49 L312.44 209.48 L313.70 209.47 L314.96 209.46 L316.22 209.45 L317.48 209.44 L318.75 209.43 L320.01 209.43 L321.27 209.42 L322.53 209.41 L323.79 209.40 L325.05 209.39 L326.32 209.38 L327.58 209.37 L328.84 209.37 L330.10 209.36 L331.36 209.35 L332.62 209.34 L333.88 209.33 L335.15 209.32 L336.41 209.32 L337.67 209.31 L338.93 209.30 L340.19 209.29 L341.45 209.28 L342.72 209.27 L343.98 209.27 L345.24 209.26 L346.50 209.25 L347.76 209.24 L349.02 209.24 L350.29 209.23 L351.55 209.22 L352.81 209.21 L354.07 209.20 L355.33 209.20 L356.59 209.19 L357.86 209.18 L359.12 209.17 L360.38 209.17 L361.64 209.16 L362.90 209.15 L364.16 209.14 L365.42 209.14 L366.69 209.13 L367.95 209.12 L369.21 209.11 L370.47 209.11 L371.73 209.10 L372.99 209.09 L374.26 209.08 L375.52 209.08 L376.78 209.07 L378.04 209.06 L379.30 209.05 L380.56 209.05 L381.83 209.04 L383.09 209.03 L384.35 209.03 L385.61 209.02 L386.87 209.01 L388.13 209.00 L389.40 209.00 L390.66 208.99 L391.92 208.98 L393.18 208.98 L394.44 208.97 L395.70 208.96 L396.96 208.96 L398.23 208.95 L399.49 208.94 L400.75 208.94 L402.01 208.93 L403.27 208.92 L404.53 208.92 L405.80 208.91 L407.06 208.90 L408.32 208.90 L409.58 208.89 L410.84 208.88 L412.10 208.88 L413.37 208.87 L414.63 208.86 L415.89 208.86 L417.15 208.85 L418.41 208.84 L419.67 208.84 L420.94 208.83 L422.20 208.82 L423.46 208.82 L424.72 208.81 L425.98 208.80 L427.24 208.80 L428.50 208.79 L429.77 208.79 L431.03 208.78 L432.29 208.77 L433.55 208.77 L434.81 208.76 L436.07 208.75 L437.34 208.75 L438.60 208.74 L439.86 208.74 L441.12 208.73 L442.38 208.72 L443.64 208.72 L444.91 208.71 L446.17 208.71 L447.43 208.70 L448.69 208.69 L449.95 208.69 L451.21 208.68 L452.48 208.68 L453.74 208.67 L455.00 208.66 L456.26 208.66 L457.52 208.65 L458.78 208.65 L460.04 208.64 L461.31 208.63 L462.57 208.63 L463.83 208.62 L465.09 208.62 L466.35 208.61 L467.61 208.61 L468.88 208.60 L470.14 208.59 L471.40 208.59 L472.66 208.58 L473.92 208.58 L475.18 208.57 L476.45 208.57 L477.71 208.56 L478.97 208.55 L480.23 208.55 L481.49 208.54 L482.75 208.54 L484.02 208.53 L485.28 208.53 L486.54 208.52 L487.80 208.52 L489.06 208.51 L490.32 208.50 L491.58 208.50 L492.85 208.49 L494.11 208.49 L495.37 208.48 L496.63 208.48 L497.89 208.47 L499.15 208.47 L500.42 208.46 L501.68 208.46 L502.94 208.45 L504.20 208.45 L505.46 208.44 L506.72 208.44 L507.99 208.43 L509.25 208.42 L510.51 208.42 L511.77 208.41 L513.03 208.41 L514.29 208.40 L515.56 208.40 L516.82 208.39 L518.08 208.39 L519.34 208.38 L520.60 208.38 L521.86 208.37 L523.12 208.37 L524.39 208.36 L525.65 208.36 L526.91 208.35 L528.17 208.35 L529.43 208.34 L530.69 208.34 L531.96 208.33 L533.22 208.33 L534.48 208.32 L535.74 208.32 L537.00 208.31 L538.26 208.31 L539.53 208.30 L540.79 208.30 L542.05 208.29 L543.31 208.29 L544.57 208.28 L545.83 208.28 L547.10 208.27 L548.36 208.27 L549.62 208.26 L550.88 208.26 L552.14 208.25 L553.40 208.25 L554.66 208.24 L555.93 208.24 L557.19 208.23 L558.45 208.23 L559.71 208.23 L560.97 208.22 L562.23 208.22 L563.50 208.21 L564.76 208.21 L566.02 208.20 L567.28 208.20 L568.54 208.19 L569.80 208.19 L571.07 208.18 L572.33 208.18 L573.59 208.17 L574.85 208.17 L576.11 208.16 L577.37 208.16 L578.64 208.16 L579.90 208.15 L581.16 208.15 L582.42 208.14 L583.68 208.14 L584.94 208.13 L586.20 208.13 L587.47 208.12 L588.73 208.12 L589.99 208.11 L591.25 208.11 L592.51 208.11 L593.77 208.10 L595.04 208.10 L596.30 208.09 L597.56 208.09 L598.82 208.08 L600.08 208.08 L601.34 208.07 L602.61 208.07 L603.87 208.07 L605.13 208.06 L606.39 208.06 L607.65 208.05 L608.91 208.05 L610.18 208.04 L611.44 208.04 L612.70 208.04 L613.96 208.03 L615.22 208.03 L616.48 208.02 L617.74 208.02 L619.01 208.01 L620.27 208.01 L621.53 208.01 L622.79 208.00 L624.05 208.00 L625.31 207.99 L626.58 207.99 L627.84 207.98 L629.10 207.98 L630.36 207.98 L631.62 207.97 L632.88 207.97 L634.15 207.96 L635.41 207.96 L636.67 207.96 L637.93 207.95 L639.19 207.95 L640.45 207.94 L641.72 207.94 L642.98 207.93 L644.24 207.93 L645.50 207.93 L646.76 207.92 L648.02 207.92 L649.28 207.91 L650.55 207.91 L651.81 207.91 L653.07 207.90 L654.33 207.90 L655.59 207.89 L656.85 207.89 L658.12 207.89 L659.38 207.88 L660.64 207.88 L661.27 207.88" stroke="#e9a923" stroke-dasharray="16 11.85" stroke-dashoffset="0.649"/>
<path d="M31.10 234.71 L31.10 234.71 L31.10 234.71 L31.10 234.70 L31.11 234.70 L31.11 234.69 L31.11 234.68 L31.11 234.67 L31.12 234.65 L31.12 234.64 L31.13 234.62 L31.13 234.60 L31.14 234.58 L31.15 234.56 L31.15 234.54 L31.16 234.52 L31.17 234.49 L31.18 234.46 L31.19 234.44 L31.20 234.41 L31.21 234.38 L31.22 234.34 L31.23 234.31 L31.25 234.28 L31.26 234.24 L31.27 234.21 L31.29 234.17 L31.30 234.14 L31.32 234.10 L31.33 234.06 L31.35 234.02 L31.36 233.98 L31.38 233.94 L31.40 233.90 L31.42 233.86 L31.44 233.82 L31.46 233.78 L31.48 233.73 L31.50 233.69 L31.52 233.65 L31.54 233.61 L31.56 233.56 L31.58 233.52 L31.61 233.48 L31.63 233.43 L31.65 233.39 L31.68 233.34 L31.70 233.30 L31.73 233.26 L31.76 233.21 L31.78 233.17 L31.81 233.13 L31.84 233.08 L31.87 233.04 L31.90 233.00 L31.93 232.95 L31.96 232.91 L31.99 232.87 L32.02 232.82 L32.05 232.78 L32.08 232.74 L32.12 232.69 L32.15 232.65 L32.19 232.61 L32.22 232.57 L32.26 232.53 L32.29 232.48 L32.33 232.44 L32.36 232.40 L32.40 232.36 L32.44 232.32 L32.48 232.28 L32.52 232.24 L32.56 232.20 L32.60 232.16 L32.64 232.12 L32.68 232.08 L32.72 232.04 L32.76 232.00 L32.81 231.96 L32.85 231.92 L32.89 231.88 L32.94 231.84 L32.98 231.81 L33.03 231.77 L33.08 231.73 L33.12 231.69 L33.17 231.66 L33.22 231.62 L33.27 231.58 L33.31 231.55 L33.36 231.51 L33.41 231.47 L33.46 231.44 L33.52 231.40 L33.57 231.37 L33.62 231.33 L33.67 231.30 L33.73 231.26 L33.78 231.23 L33.83 231.19 L33.89 231.16 L33.94 231.13 L34.00 231.09 L34.06 231.06 L34.11 231.03 L34.17 230.99 L34.23 230.96 L34.29 230.93 L34.35 230.90 L34.41 230.86 L34.47 230.83 L34.53 230.80 L34.59 230.77 L34.65 230.74 L34.72 230.71 L34.78 230.67 L34.84 230.64 L34.91 230.61 L34.97 230.58 L35.04 230.55 L35.10 230.52 L35.17 230.49 L35.24 230.46 L35.30 230.43 L35.37 230.40 L35.44 230.37 L35.51 230.35 L35.58 230.32 L35.65 230.29 L35.72 230.26 L35.79 230.23 L35.86 230.20 L35.94 230.17 L36.01 230.15 L36.08 230.12 L36.16 230.09 L36.23 230.06 L36.31 230.04 L36.38 230.01 L36.46 229.98 L36.54 229.96 L36.61 229.93 L36.69 229.90 L36.77 229.88 L36.85 229.85 L36.93 229.82 L37.01 229.80 L37.09 229.77 L37.17 229.75 L37.25 229.72 L37.33 229.70 L37.42 229.67 L37.50 229.65 L37.58 229.62 L37.67 229.60 L37.75 229.57 L37.84 229.55 L37.92 229.52 L38.01 229.50 L38.10 229.47 L38.19 229.45 L38.27 229.43 L38.36 229.40 L38.45 229.38 L38.54 229.36 L38.63 229.33 L38.72 229.31 L38.82 229.29 L38.91 229.26 L39.00 229.24 L39.09 229.22 L39.19 229.19 L39.28 229.17 L39.38 229.15 L39.47 229.13 L39.57 229.10 L39.66 229.08 L39.76 229.06 L39.86 229.04 L39.96 229.02 L40.06 228.99 L40.16 228.97 L40.25 228.95 L40.36 228.93 L40.46 228.91 L40.56 228.89 L40.66 228.87 L40.76 228.84 L40.87 228.82 L40.97 228.80 L41.07 228.78 L41.18 228.76 L41.28 228.74 L41.39 228.72 L41.49 228.70 L41.60 228.68 L41.71 228.66 L41.82 228.64 L41.93 228.62 L42.03 228.60 L42.14 228.58 L42.25 228.56 L42.37 228.54 L42.48 228.52 L42.59 228.50 L42.70 228.48 L42.81 228.46 L42.93 228.44 L43.04 228.42 L43.16 228.41 L43.27 228.39 L43.39 228.37 L43.50 228.35 L43.62 228.33 L43.74 228.31 L43.85 228.29 L43.97 228.27 L44.09 228.26 L44.21 228.24 L44.33 228.22 L44.45 228.20 L44.57 228.18 L44.69 228.17 L44.82 228.15 L44.94 228.13 L45.06 228.11 L45.19 228.09 L45.31 228.08 L45.44 228.06 L45.56 228.04 L45.69 228.02 L45.81 228.01 L45.94 227.99 L46.07 227.97 L46.20 227.95 L46.33 227.94 L46.45 227.92 L46.58 227.90 L46.71 227.89 L46.85 227.87 L46.98 227.85 L47.11 227.84 L47.24 227.82 L47.37 227.80 L47.51 227.79 L47.64 227.77 L47.78 227.75 L47.91 227.74 L48.05 227.72 L48.18 227.70 L48.32 227.69 L48.46 227.67 L48.60 227.66 L48.74 227.64 L48.88 227.62 L49.01 227.61 L49.16 227.59 L49.30 227.58 L49.44 227.56 L49.58 227.54 L49.72 227.53 L49.86 227.51 L50.01 227.50 L50.15 227.48 L50.30 227.47 L50.44 227.45 L50.59 227.44 L50.73 227.42 L50.88 227.41 L51.03 227.39 L51.18 227.38 L51.32 227.36 L51.47 227.35 L51.62 227.33 L51.77 227.32 L51.92 227.30 L52.07 227.29 L52.23 227.27 L52.38 227.26 L52.53 227.24 L52.68 227.23 L52.84 227.21 L52.99 227.20 L53.15 227.18 L53.30 227.17 L53.46 227.16 L53.62 227.14 L53.77 227.13 L53.93 227.11 L54.09 227.10 L54.25 227.09 L54.41 227.07 L54.57 227.06 L54.73 227.04 L54.89 227.03 L55.05 227.02 L55.21 227.00 L55.38 226.99 L55.54 226.97 L55.70 226.96 L56.33 226.91 L57.59 226.81 L58.86 226.71 L60.12 226.62 L61.38 226.53 L62.64 226.45 L63.90 226.37 L65.16 226.29 L66.43 226.22 L67.69 226.14 L68.95 226.07 L70.21 226.01 L71.47 225.94 L72.73 225.88 L74.00 225.82 L75.26 225.75 L76.52 225.70 L77.78 225.64 L79.04 225.58 L80.30 225.53 L81.56 225.48 L82.83 225.43 L84.09 225.38 L85.35 225.33 L86.61 225.28 L87.87 225.23 L89.13 225.19 L90.40 225.14 L91.66 225.10 L92.92 225.06 L94.18 225.01 L95.44 224.97 L96.70 224.93 L97.97 224.89 L99.23 224.85 L100.49 224.82 L101.75 224.78 L103.01 224.74 L104.27 224.71 L105.54 224.67 L106.80 224.63 L108.06 224.60 L109.32 224.57 L110.58 224.53 L111.84 224.50 L113.10 224.47 L114.37 224.44 L115.63 224.40 L116.89 224.37 L118.15 224.34 L119.41 224.31 L120.67 224.28 L121.94 224.25 L123.20 224.23 L124.46 224.20 L125.72 224.17 L126.98 224.14 L128.24 224.11 L129.51 224.09 L130.77 224.06 L132.03 224.03 L133.29 224.01 L134.55 223.98 L135.81 223.96 L137.08 223.93 L138.34 223.91 L139.60 223.88 L140.86 223.86 L142.12 223.84 L143.38 223.81 L144.64 223.79 L145.91 223.77 L147.17 223.74 L148.43 223.72 L149.69 223.70 L150.95 223.68 L152.21 223.65 L153.48 223.63 L154.74 223.61 L156.00 223.59 L157.26 223.57 L158.52 223.55 L159.78 223.53 L161.05 223.51 L162.31 223.49 L163.57 223.47 L164.83 223.45 L166.09 223.43 L167.35 223.41 L168.62 223.39 L169.88 223.37 L171.14 223.35 L172.40 223.33 L173.66 223.31 L174.92 223.29 L176.18 223.28 L177.45 223.26 L178.71 223.24 L179.97 223.22 L181.23 223.20 L182.49 223.19 L183.75 223.17 L185.02 223.15 L186.28 223.14 L187.54 223.12 L188.80 223.10 L190.06 223.08 L191.32 223.07 L192.59 223.05 L193.85 223.04 L195.11 223.02 L196.37 223.00 L197.63 222.99 L198.89 222.97 L200.16 222.96 L201.42 222.94 L202.68 222.93 L203.94 222.91 L205.20 222.89 L206.46 222.88 L207.72 222.86 L208.99 222.85 L210.25 222.83 L211.51 222.82 L212.77 222.81 L214.03 222.79 L215.29 222.78 L216.56 222.76 L217.82 222.75 L219.08 222.73 L220.34 222.72 L221.60 222.71 L222.86 222.69 L224.13 222.68 L225.39 222.66 L226.65 222.65 L227.91 222.64 L229.17 222.62 L230.43 222.61 L231.70 222.60 L232.96 222.58 L234.22 222.57 L235.48 222.56 L236.74 222.55 L238.00 222.53 L239.26 222.52 L240.53 222.51 L241.79 222.49 L243.05 222.48 L244.31 222.47 L245.57 222.46 L246.83 222.45 L248.10 222.43 L249.36 222.42 L250.62 222.41 L251.88 222.40 L253.14 222.38 L254.40 222.37 L255.67 222.36 L256.93 222.35 L258.19 222.34 L259.45 222.33 L260.71 222.31 L261.97 222.30 L263.24 222.29 L264.50 222.28 L265.76 222.27 L267.02 222.26 L268.28 222.25 L269.54 222.24 L270.80 222.22 L272.07 222.21 L273.33 222.20 L274.59 222.19 L275.85 222.18 L277.11 222.17 L278.37 222.16 L279.64 222.15 L280.90 222.14 L282.16 222.13 L283.42 222.12 L284.68 222.11 L285.94 222.10 L287.21 222.09 L288.47 222.08 L289.73 222.07 L290.99 222.06 L292.25 222.04 L293.51 222.03 L294.78 222.02 L296.04 222.01 L297.30 222.00 L298.56 221.99 L299.82 221.99 L301.08 221.98 L302.34 221.97 L303.61 221.96 L304.87 221.95 L306.13 221.94 L307.39 221.93 L308.65 221.92 L309.91 221.91 L311.18 221.90 L312.44 221.89 L313.70 221.88 L314.96 221.87 L316.22 221.86 L317.48 221.85 L318.75 221.84 L320.01 221.83 L321.27 221.82 L322.53 221.81 L323.79 221.81 L325.05 221.80 L326.32 221.79 L327.58 221.78 L328.84 221.77 L330.10 221.76 L331.36 221.75 L332.62 221.74 L333.88 221.73 L335.15 221.73 L336.41 221.72 L337.67 221.71 L338.93 221.70 L340.19 221.69 L341.45 221.68 L342.72 221.67 L343.98 221.67 L345.24 221.66 L346.50 221.65 L347.76 221.64 L349.02 221.63 L350.29 221.62 L351.55 221.62 L352.81 221.61 L354.07 221.60 L355.33 221.59 L356.59 221.58 L357.86 221.58 L359.12 221.57 L360.38 221.56 L361.64 221.55 L362.90 221.54 L364.16 221.53 L365.42 221.53 L366.69 221.52 L367.95 221.51 L369.21 221.50 L370.47 221.50 L371.73 221.49 L372.99 221.48 L374.26 221.47 L375.52 221.46 L376.78 221.46 L378.04 221.45 L379.30 221.44 L380.56 221.43 L381.83 221.43 L383.09 221.42 L384.35 221.41 L385.61 221.40 L386.87 221.40 L388.13 221.39 L389.40 221.38 L390.66 221.37 L391.92 221.37 L393.18 221.36 L394.44 221.35 L395.70 221.35 L396.96 221.34 L398.23 221.33 L399.49 221.32 L400.75 221.32 L402.01 221.31 L403.27 221.30 L404.53 221.29 L405.80 221.29 L407.06 221.28 L408.32 221.27 L409.58 221.27 L410.84 221.26 L412.10 221.25 L413.37 221.25 L414.63 221.24 L415.89 221.23 L417.15 221.23 L418.41 221.22 L419.67 221.21 L420.94 221.20 L422.20 221.20 L423.46 221.19 L424.72 221.18 L425.98 221.18 L427.24 221.17 L428.50 221.16 L429.77 221.16 L431.03 221.15 L432.29 221.14 L433.55 221.14 L434.81 221.13 L436.07 221.12 L437.34 221.12 L438.60 221.11 L439.86 221.11 L441.12 221.10 L442.38 221.09 L443.64 221.09 L444.91 221.08 L446.17 221.07 L447.43 221.07 L448.69 221.06 L449.95 221.05 L451.21 221.05 L452.48 221.04 L453.74 221.04 L455.00 221.03 L456.26 221.02 L457.52 221.02 L458.78 221.01 L460.04 221.00 L461.31 221.00 L462.57 220.99 L463.83 220.99 L465.09 220.98 L466.35 220.97 L467.61 220.97 L468.88 220.96 L470.14 220.96 L471.40 220.95 L472.66 220.94 L473.92 220.94 L475.18 220.93 L476.45 220.93 L477.71 220.92 L478.97 220.91 L480.23 220.91 L481.49 220.90 L482.75 220.90 L484.02 220.89 L485.28 220.88 L486.54 220.88 L487.80 220.87 L489.06 220.87 L490.32 220.86 L491.58 220.86 L492.85 220.85 L494.11 220.84 L495.37 220.84 L496.63 220.83 L497.89 220.83 L499.15 220.82 L500.42 220.82 L501.68 220.81 L502.94 220.80 L504.20 220.80 L505.46 220.79 L506.72 220.79 L507.99 220.78 L509.25 220.78 L510.51 220.77 L511.77 220.77 L513.03 220.76 L514.29 220.75 L515.56 220.75 L516.82 220.74 L518.08 220.74 L519.34 220.73 L520.60 220.73 L521.86 220.72 L523.12 220.72 L524.39 220.71 L525.65 220.71 L526.91 220.70 L528.17 220.69 L529.43 220.69 L530.69 220.68 L531.96 220.68 L533.22 220.67 L534.48 220.67 L535.74 220.66 L537.00 220.66 L538.26 220.65 L539.53 220.65 L540.79 220.64 L542.05 220.64 L543.31 220.63 L544.57 220.63 L545.83 220.62 L547.10 220.62 L548.36 220.61 L549.62 220.61 L550.88 220.60 L552.14 220.60 L553.40 220.59 L554.66 220.59 L555.93 220.58 L557.19 220.58 L558.45 220.57 L559.71 220.57 L560.97 220.56 L562.23 220.56 L563.50 220.55 L564.76 220.55 L566.02 220.54 L567.28 220.54 L568.54 220.53 L569.80 220.53 L571.07 220.52 L572.33 220.52 L573.59 220.51 L574.85 220.51 L576.11 220.50 L577.37 220.50 L578.64 220.49 L579.90 220.49 L581.16 220.48 L582.42 220.48 L583.68 220.47 L584.94 220.47 L586.20 220.46 L587.47 220.46 L588.73 220.45 L589.99 220.45 L591.25 220.44 L592.51 220.44 L593.77 220.43 L595.04 220.43 L596.30 220.43 L597.56 220.42 L598.82 220.42 L600.08 220.41 L601.34 220.41 L602.61 220.40 L603.87 220.40 L605.13 220.39 L606.39 220.39 L607.65 220.38 L608.91 220.38 L610.18 220.37 L611.44 220.37 L612.70 220.37 L613.96 220.36 L615.22 220.36 L616.48 220.35 L617.74 220.35 L619.01 220.34 L620.27 220.34 L621.53 220.33 L622.79 220.33 L624.05 220.32 L625.31 220.32 L626.58 220.32 L627.84 220.31 L629.10 220.31 L630.36 220.30 L631.62 220.30 L632.88 220.29 L634.15 220.29 L635.41 220.28 L636.67 220.28 L637.93 220.28 L639.19 220.27 L640.45 220.27 L641.72 220.26 L642.98 220.26 L644.24 220.25 L645.50 220.25 L646.76 220.25 L648.02 220.24 L649.28 220.24 L650.55 220.23 L651.81 220.23 L653.07 220.22 L654.33 220.22 L655.59 220.22 L656.85 220.21 L658.12 220.21 L659.38 220.20 L660.64 220.20 L661.27 220.20" stroke="#742a80" stroke-dasharray="16.1 1.4 8.95 1.4" stroke-dashoffset="0.337"/>
</g><line x1="31.2" y1="482.5" x2="661.27" y2="482.5" stroke="#6ca13a" stroke-width="4.4"/>
<g font-size="20.4" fill="#262626"><text x="22.6" y="505.80" text-anchor="end">0</text><text x="22.6" y="446.30" text-anchor="end">10</text><text x="22.6" y="386.10" text-anchor="end">20</text><text x="22.6" y="327.00" text-anchor="end">30</text><text x="22.6" y="266.90" text-anchor="end">40</text><text x="22.6" y="206.90" text-anchor="end">50</text><text x="22.6" y="147.10" text-anchor="end">60</text><text x="94.20" y="525.9" text-anchor="middle">100</text><text x="158.00" y="525.9" text-anchor="middle">200</text><text x="221.10" y="525.9" text-anchor="middle">300</text><text x="283.70" y="525.9" text-anchor="middle">400</text><text x="347.10" y="525.9" text-anchor="middle">500</text><text x="410.10" y="525.9" text-anchor="middle">600</text><text x="472.70" y="525.9" text-anchor="middle">700</text><text x="536.10" y="525.9" text-anchor="middle">800</text><text x="599.30" y="525.9" text-anchor="middle">900</text><text x="662.00" y="525.9" text-anchor="middle">1000</text></g>
<text x="347.5" y="555.5" font-size="22" fill="#262626" text-anchor="middle">log(N)</text>
<rect x="160" y="0.3" width="373.4" height="122.8" fill="#fff" stroke="#262626" stroke-width="1.35"/>
<line x1="165.3" y1="13.9" x2="223.3" y2="13.9" stroke="#0a5c9c" stroke-width="4.2" stroke-dasharray="4.7 2.22"/><text x="228" y="20.4" font-size="17.4" fill="#1a1a1a">new c for extreme discrepancy</text>
<line x1="165.3" y1="37.4" x2="223.3" y2="37.4" stroke="#d6501b" stroke-width="4.2" stroke-dasharray="4.7 2.22"/><text x="228" y="44.5" font-size="17.4" fill="#1a1a1a">new c for star-discrepancy</text>
<line x1="166.0" y1="61.7" x2="222.9" y2="61.7" stroke="#e9a923" stroke-width="4.2" stroke-dasharray="14.3 12.7"/><text x="228" y="68.8" font-size="17.4" fill="#1a1a1a">c according to [AW12]</text>
<line x1="165.7" y1="86.0" x2="222.9" y2="86.0" stroke="#742a80" stroke-width="4.2" stroke-dasharray="14.5 2.1 8.4 2.1"/><text x="228" y="92.3" font-size="17.4" fill="#1a1a1a">c according to [AW12], dependent on s</text>
<line x1="165.6" y1="108.9" x2="223.8" y2="108.9" stroke="#6ca13a" stroke-width="4.2" stroke-dasharray="none"/><text x="228" y="116.1" font-size="17.4" fill="#1a1a1a">constant according to [GPW21]</text>
</svg>
</body></html>
